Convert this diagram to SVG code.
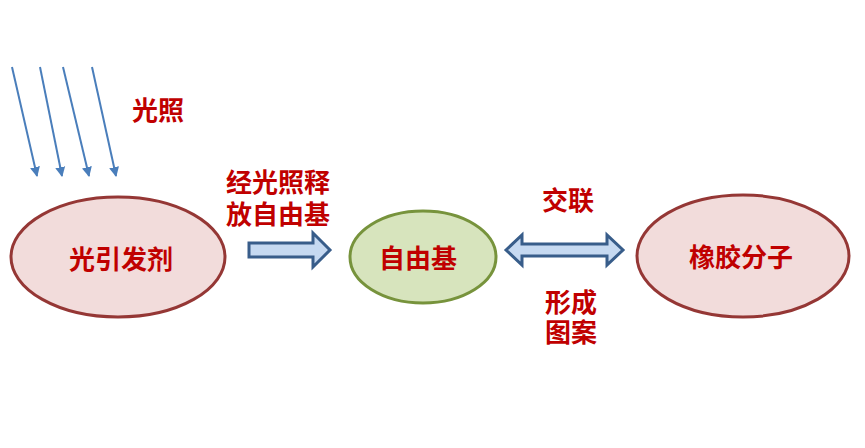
<svg xmlns="http://www.w3.org/2000/svg" width="865" height="448" viewBox="0 0 865 448">
<defs>
<marker id="ah" viewBox="0 0 10 10" refX="9" refY="5" markerWidth="5" markerHeight="5.5" orient="auto" markerUnits="strokeWidth">
<path d="M0,0 L10,5 L0,10 Z" fill="#4a7ebb"/>
</marker>
<style>
.t{font-family:"Noto Sans CJK SC","Noto Sans CJK TC",sans-serif;font-weight:bold;font-size:26px;fill:#c00000;text-anchor:middle;dominant-baseline:central}
.red{fill:#f2dcdb;stroke:#953735;stroke-width:3}
.grn{fill:#d7e4bd;stroke:#77933c;stroke-width:3}
.blk{fill:#c6d9f1;stroke:#385d8a;stroke-width:3;stroke-linejoin:miter}
.ray{stroke:#4a7ebb;stroke-width:2;fill:none}
</style>
</defs>
<rect width="865" height="448" fill="#ffffff"/>
<g id="connectors">
<line class="ray" x1="12" y1="67" x2="37" y2="176" marker-end="url(#ah)"/>
<line class="ray" x1="40" y1="67" x2="62" y2="176" marker-end="url(#ah)"/>
<line class="ray" x1="63" y1="67" x2="89" y2="176" marker-end="url(#ah)"/>
<line class="ray" x1="92" y1="67" x2="116" y2="176" marker-end="url(#ah)"/>
<path class="blk" d="M249,243 L313,243 L313,233 L330,250 L313,267 L313,257 L249,257 Z"/>
<path class="blk" d="M506,250 L522,235 L522,244 L607,244 L607,235 L623,250 L607,265 L607,256 L522,256 L522,265 Z"/>
</g>
<g id="label-light"><text class="t" x="158" y="108">光照</text></g>
<g id="label-release"><text class="t" x="278" y="180">经光照释</text><text class="t" x="278" y="212">放自由基</text></g>
<g id="label-crosslink"><text class="t" x="568" y="198">交联</text></g>
<g id="label-pattern"><text class="t" x="571" y="300">形成</text><text class="t" x="571" y="330">图案</text></g>
<g id="node-photoinitiator">
<ellipse class="red" cx="118" cy="257" rx="107" ry="60"/>
<text class="t" x="121" y="257">光引发剂</text>
</g>
<g id="node-radical">
<ellipse class="grn" cx="423" cy="257" rx="73" ry="46"/>
<text class="t" x="418" y="256">自由基</text>
</g>
<g id="node-rubber">
<ellipse class="red" cx="743" cy="256" rx="106" ry="61"/>
<text class="t" x="741" y="255">橡胶分子</text>
</g>
</svg>
